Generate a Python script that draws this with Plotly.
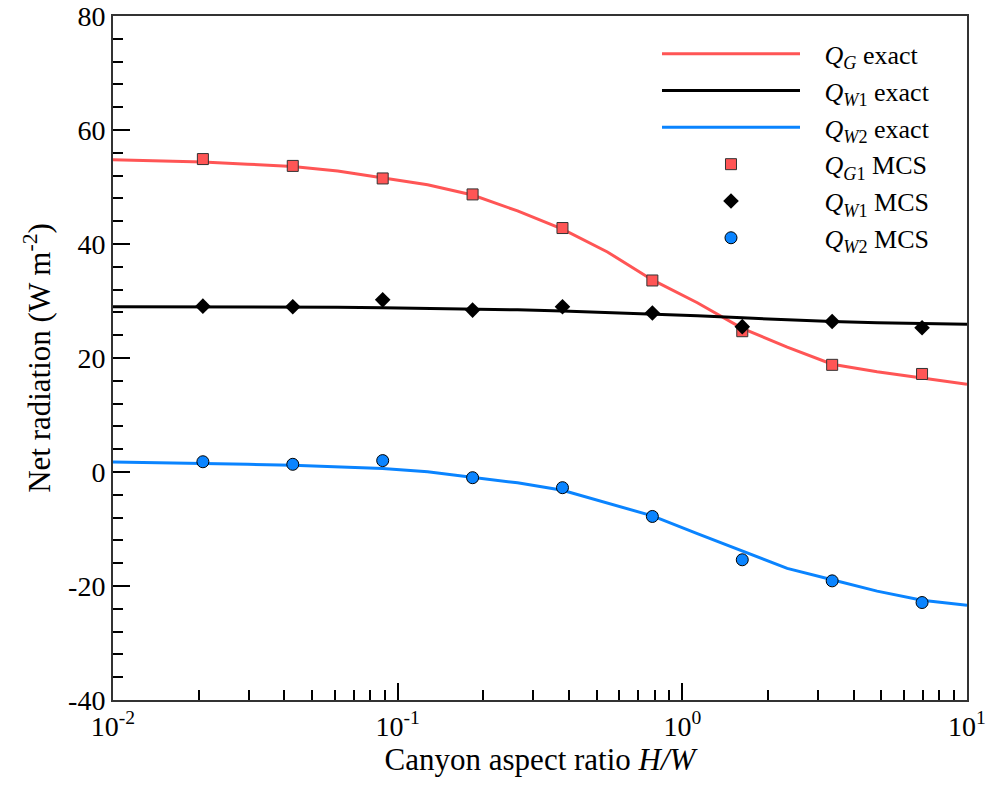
import plotly.graph_objects as go

# ---- data ----
hw_exact = [0.01, 0.01438, 0.02069, 0.02976, 0.04281, 0.06158, 0.08859, 0.1274,
            0.1833, 0.2637, 0.3793, 0.5456, 0.7848, 1.129, 1.624, 2.336, 3.360,
            4.833, 6.952, 10.0]
qg_exact = [54.8, 54.65, 54.4, 54.0, 53.6, 52.8, 51.6, 50.4, 48.6, 45.8, 42.6,
            38.6, 33.7, 29.7, 25.2, 21.9, 18.9, 17.6, 16.5, 15.4]
qw1_exact = [29.0, 29.0, 29.0, 29.0, 28.95, 28.9, 28.8, 28.7, 28.6, 28.45, 28.25,
             28.0, 27.7, 27.4, 27.05, 26.7, 26.4, 26.2, 26.05, 25.9]
qw2_exact = [1.75, 1.65, 1.5, 1.35, 1.2, 0.95, 0.6, 0.05, -0.9, -1.9, -3.2, -5.4,
             -7.7, -10.8, -13.9, -16.9, -18.9, -20.9, -22.5, -23.4]

hw_mcs = [0.02069, 0.04281, 0.08859, 0.1833, 0.3793, 0.7848, 1.624, 3.360, 6.952]
qg_mcs = [54.9, 53.7, 51.5, 48.7, 42.8, 33.6, 24.7, 18.8, 17.2]
qw1_mcs = [29.1, 29.0, 30.2, 28.4, 29.0, 27.9, 25.5, 26.4, 25.3]
qw2_mcs = [1.8, 1.35, 2.0, -1.0, -2.75, -7.8, -15.4, -19.1, -22.9]

x_major = [0.01, 0.1, 1, 10]
x_major_text = ["10<sup>-2</sup>", "10<sup>-1</sup>", "10<sup>0</sup>", "10<sup>1</sup>"]
x_minor = [m * d for d in (0.01, 0.1, 1) for m in range(2, 10)]
y_major = [-40, -20, 0, 20, 40, 60, 80]
y_major_text = ["-40", "-20", "0", "20", "40", "60", "80"]

RED = "#ff5555"
BLUE = "#0a84ff"
NB = "\u00a0\u00a0\u00a0"
FONT = "'Liberation Serif', 'Times New Roman', 'DejaVu Serif', serif"

fig = go.Figure()
fig.add_trace(go.Scatter(x=hw_exact, y=qg_exact, mode="lines",
                         line=dict(color=RED, width=3),
                         name=NB + "<i>Q</i><sub><i>G</i></sub> exact"))
fig.add_trace(go.Scatter(x=hw_exact, y=qw1_exact, mode="lines",
                         line=dict(color="black", width=3),
                         name=NB + "<i>Q</i><sub><i>W</i>1</sub> exact"))
fig.add_trace(go.Scatter(x=hw_exact, y=qw2_exact, mode="lines",
                         line=dict(color=BLUE, width=3),
                         name=NB + "<i>Q</i><sub><i>W</i>2</sub> exact"))
fig.add_trace(go.Scatter(x=hw_mcs, y=qg_mcs, mode="markers",
                         marker=dict(symbol="square", size=11, color=RED,
                                     line=dict(color="#333333", width=1)),
                         name=NB + "<i>Q</i><sub><i>G</i>1</sub> MCS"))
fig.add_trace(go.Scatter(x=hw_mcs, y=qw1_mcs, mode="markers",
                         marker=dict(symbol="diamond", size=12, color="black",
                                     line=dict(color="black", width=0)),
                         name=NB + "<i>Q</i><sub><i>W</i>1</sub> MCS"))
fig.add_trace(go.Scatter(x=hw_mcs, y=qw2_mcs, mode="markers",
                         marker=dict(symbol="circle", size=12, color=BLUE,
                                     line=dict(color="black", width=1)),
                         name=NB + "<i>Q</i><sub><i>W</i>2</sub> MCS"))

fig.update_layout(
    width=990, height=787,
    margin=dict(l=113, r=23, t=16, b=87),
    paper_bgcolor="white", plot_bgcolor="white",
    font=dict(family=FONT, size=28, color="black"),
    showlegend=True,
    legend=dict(x=0.637, y=0.979, xanchor="left", yanchor="top",
                bgcolor="rgba(0,0,0,0)", itemwidth=138,
                font=dict(family=FONT, size=26), tracegroupgap=0),
)
fig.update_xaxes(
    type="log", range=[-2, 1], automargin=False,
    tickvals=x_major, ticktext=x_major_text, ticklabeloverflow="allow",
    ticks="inside", ticklen=17, tickwidth=1.5, tickcolor="black",
    minor=dict(tickvals=x_minor, ticks="inside", ticklen=10, tickwidth=1.5,
               tickcolor="black"),
    showline=True, linecolor="#333333", linewidth=2, mirror=True,
    showgrid=False, zeroline=False,
    tickfont=dict(family=FONT, size=28),
    title=dict(text="Canyon aspect ratio <i>H/W</i>", font=dict(family=FONT, size=31),
               standoff=8),
)
fig.update_yaxes(
    range=[-40, 80], automargin=False,
    tickvals=y_major, ticktext=y_major_text, ticklabeloverflow="allow",
    ticks="inside", ticklen=17, tickwidth=1.5, tickcolor="black",
    minor=dict(dtick=4, tick0=0, ticks="inside", ticklen=10, tickwidth=1.5,
               tickcolor="black"),
    showline=True, linecolor="#333333", linewidth=2, mirror=True,
    showgrid=False, zeroline=False,
    tickfont=dict(family=FONT, size=28),
    title=dict(text="Net radiation (W m<sup>-2</sup>)", font=dict(family=FONT, size=31),
               standoff=8),
)

fig.write_html("out.html", config={"displayModeBar": False},
               post_script="document.body.style.margin='0px';")
